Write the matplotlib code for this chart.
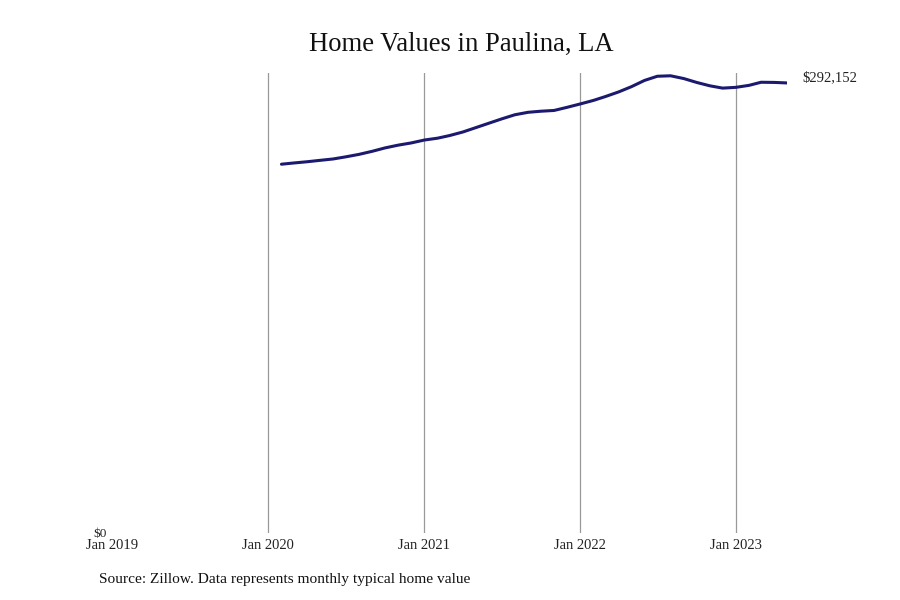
import matplotlib
matplotlib.use('Agg')
import matplotlib.pyplot as plt
import pandas as pd

# monthly typical home value, Feb 2020 - May 2023
months = pd.date_range('2020-02-01', '2023-05-01', freq='MS')
values = [239400, 240200, 241000, 241900, 242800, 244200, 245800, 247800, 250000, 251800,
          253200, 255100, 256300, 258000, 260300, 263100, 266000, 268800, 271500, 273100,
          273800, 274300, 276300, 278500, 280800, 283300, 286300, 289700, 293800, 296500,
          296800, 295000, 292500, 290300, 288800, 289300, 290600, 292600, 292500, 292152]
tick_dates = pd.to_datetime(['2019-01-01', '2020-01-01', '2021-01-01', '2022-01-01', '2023-01-01'])
tick_labels = ['Jan 2019', 'Jan 2020', 'Jan 2021', 'Jan 2022', 'Jan 2023']

plt.rcParams['font.family'] = ['Liberation Serif', 'DejaVu Serif']

fig = plt.figure(figsize=(9, 6), dpi=100)
ax = fig.add_axes([0.1250, 0.1117, 0.7495, 0.7666])

# vertical grid at each January (except the left edge)
for d in tick_dates[1:]:
    ax.axvline(d, color='#999999', linewidth=0.9, zorder=1)

ax.plot(months, values, color='#1c1a6e', linewidth=2.2, solid_capstyle='round',
        solid_joinstyle='round', zorder=3)

ax.set_xlim(tick_dates[0], months[-1])
ax.set_ylim(0, 298600)

ax.set_xticks(tick_dates)
ax.set_xticklabels(tick_labels, fontsize=10.5, color='#222222')
ax.tick_params(axis='x', length=0, pad=4)
ax.set_yticks([])
for s in ax.spines.values():
    s.set_visible(False)

# end label
ax.annotate('$%s' % format(values[-1], ','), xy=(months[-1], values[-1]),
            xytext=(11, 4), textcoords='offset points', fontsize=10.5,
            color='#222222', va='center', ha='left')

fig.text(100 / 900, 1 - 534 / 600, '$0', fontsize=9.5, ha='center', va='center', color='#222222')
fig.text(461 / 900, 1 - 44 / 600, 'Home Values in Paulina, LA', fontsize=19.2, ha='center', va='center',
         color='#111111')
fig.text(99 / 900, 1 - 580 / 600, 'Source: Zillow. Data represents monthly typical home value',
         fontsize=11.1, ha='left', va='center', color='#111111')

fig.savefig('out.png', dpi=100)
